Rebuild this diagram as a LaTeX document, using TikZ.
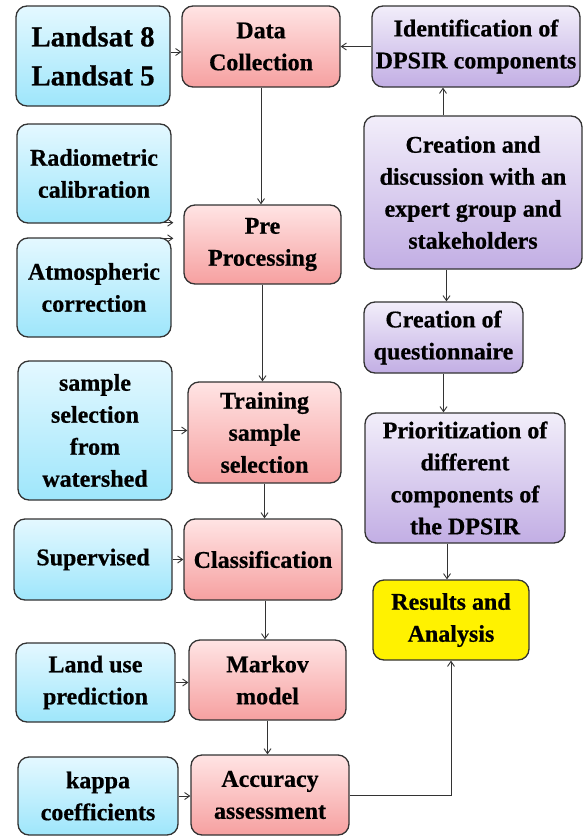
\documentclass[tikz,border=0pt]{standalone}
\usepackage{fontspec}
\setmainfont{Liberation Serif}
\newfontfamily\tnr{Liberation Serif}[BoldFeatures={FakeBold=0.6}]
\usetikzlibrary{arrows.meta,calc}
\definecolor{bluetop}{HTML}{E4F8FF}
\definecolor{bluebot}{HTML}{9EE6FB}
\definecolor{redtop}{HTML}{FFE4E4}
\definecolor{redbot}{HTML}{F6A0A0}
\definecolor{purtop}{HTML}{F2EEFA}
\definecolor{purbot}{HTML}{C2AEE4}
\definecolor{edge}{HTML}{333333}
\tikzset{
  box/.style={draw=edge, line width=1.3pt, rounded corners=11pt, align=center,
    inner sep=2pt, font=\tnr\fontsize{24}{32}\selectfont\bfseries},
  bluebox/.style={box, top color=bluetop, bottom color=bluebot},
  redbox/.style={box, top color=redtop, bottom color=redbot},
  purbox/.style={box, top color=purtop, bottom color=purbot},
  yelbox/.style={box, fill=yellow},
  sz/.style 2 args={minimum width=#1pt, minimum height=#2pt},
  arr/.style={draw=edge, line width=0.9pt, -{Straight Barb[length=5pt,width=7pt]}}
}
\begin{document}
\begin{tikzpicture}[x=1pt,y=-1pt]
\useasboundingbox (0,0) rectangle (586,836);
% blue column
\node[bluebox, sz={154}{100}, font=\tnr\fontsize{29}{39}\selectfont\bfseries] (land) at (93,56) {Landsat 8\\Landsat 5};
\node[bluebox, sz={154}{99}] (radio) at (94,173.5) {Radiometric\\calibration};
\node[bluebox, sz={154}{99}] (atmo) at (94,287.5) {Atmospheric\\correction};
\node[bluebox, sz={154}{139}] (samp) at (95,430.5) {sample\\selection\\from\\watershed};
\node[bluebox, sz={158}{81}] (sup) at (93,559.5) {Supervised};
\node[bluebox, sz={159}{79}] (landuse) at (95.5,682.5) {Land use\\prediction};
\node[bluebox, sz={160}{78}] (kappa) at (98,796) {kappa\\coefficients};
% red column
\node[redbox, sz={158}{81}] (dc) at (261,46.5) {Data\\Collection};
\node[redbox, sz={157}{79}] (pre) at (262.5,244.5) {Pre\\Processing};
\node[redbox, sz={153}{101}] (train) at (264.5,432.5) {Training\\sample\\selection};
\node[redbox, sz={158}{81}] (cls) at (263,559.5) {Classification};
\node[redbox, sz={157}{80}] (markov) at (267.5,680) {Markov\\model};
\node[redbox, sz={158}{80}] (acc) at (270,795) {Accuracy\\assessment};
% purple column
\node[purbox, sz={208}{81}] (ident) at (476,46.5) {Identification of\\DPSIR components};
\node[purbox, sz={218}{153}] (disc) at (473,192.5) {Creation and\\discussion with an\\expert group and\\stakeholders};
\node[purbox, sz={159}{71}] (quest) at (443.5,337.5) {Creation of\\questionnaire};
\node[purbox, sz={200}{130}] (prio) at (465,478) {Prioritization of\\different\\components of\\the DPSIR};
\node[yelbox, sz={156}{80}] (res) at (451,620) {Results and\\Analysis};
% connectors
\draw[arr] ([yshift=4pt]land.east) -- ([yshift=4pt]land.east -| dc.west);
\draw[arr] (ident.west) -- (dc.east);
\draw[arr] (dc.south) -- (dc.south |- pre.north);
\draw[arr] ([xshift=-10pt,yshift=1pt]radio.south east) -- ([xshift=-10pt,yshift=1pt]radio.south east -| pre.west);
\draw[arr] ([xshift=-10pt,yshift=-1pt]atmo.north east) -- ([xshift=-10pt,yshift=-1pt]atmo.north east -| pre.west);
\draw[arr] (pre.south) -- (pre.south |- train.north);
\draw[arr] (samp.east) -- (samp.east -| train.west);
\draw[arr] (train.south) -- (train.south |- cls.north);
\draw[arr] (sup.east) -- (cls.west);
\draw[arr] ([xshift=2pt]cls.south) -- ([xshift=2pt]cls.south |- markov.north);
\draw[arr] (landuse.east) -- (landuse.east -| markov.west);
\draw[arr] (markov.south) -- (markov.south |- acc.north);
\draw[arr] (kappa.east) -- (kappa.east -| acc.west);
\draw[arr] (acc.east) -| (res.south);
\draw[arr] ([xshift=-30pt]disc.north) -- ([xshift=-30pt]disc.north |- ident.south);
\draw[arr] ([xshift=3pt]quest.north |- disc.south) -- ([xshift=3pt]quest.north);
\draw[arr] (quest.south) -- (quest.south |- prio.north);
\draw[arr] ([xshift=-4pt]res.north |- prio.south) -- ([xshift=-4pt]res.north);
\end{tikzpicture}
\end{document}
